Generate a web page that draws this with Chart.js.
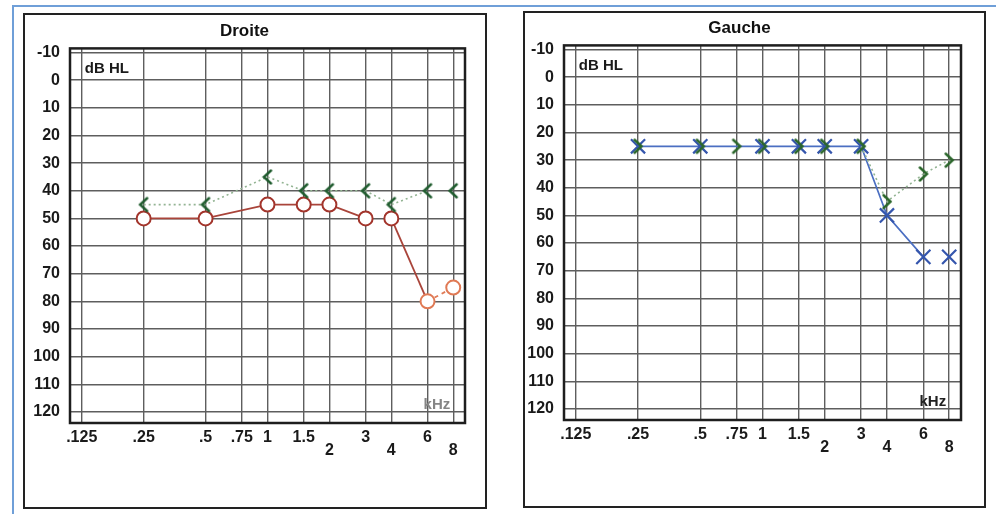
<!DOCTYPE html>
<html lang="fr">
<head>
<meta charset="utf-8">
<title>Audiogramme</title>
<script src="https://cdn.jsdelivr.net/npm/chart.js@4.4.1/dist/chart.umd.min.js"></script>
<style>
  html, body { margin: 0; padding: 0; background: #fff; }
  body { width: 996px; height: 514px; position: relative; overflow: hidden; }
  .page { position: absolute; left: 12px; top: 5px; width: 1000px; height: 520px;
          border-left: 2px solid #6f9fd8; border-top: 2px solid #6f9fd8; }
  .cadre { position: absolute; border: 2px solid #222; box-sizing: border-box; }
  #cadreDroite { left: 23px; top: 13px; width: 464px; height: 496px; }
  #cadreGauche { left: 523px; top: 11px; width: 463px; height: 497px; }
  canvas { position: absolute; }
  #droite { left: 24px; top: 14px; }
  #gauche { left: 518px; top: 11px; }
</style>
</head>
<body>
<div class="page"></div>
<div class="cadre" id="cadreDroite"></div>
<div class="cadre" id="cadreGauche"></div>
<canvas id="droite" width="490" height="494"></canvas>
<canvas id="gauche" width="468" height="494"></canvas>

<script>
// Axes
const frequences = [0.125, 0.25, 0.5, 0.75, 1, 1.5, 2, 3, 4, 6, 8];
const etiquettesFreq = [".125", ".25", ".5", ".75", "1", "1.5", "2", "3", "4", "6", "8"];
const etiquettesBasses = ["2", "4", "8"];   // écrites sur la deuxième ligne
const niveauxDb = [-10, 0, 10, 20, 30, 40, 50, 60, 70, 80, 90, 100, 110, 120];

// Oreille droite
const droiteAirFreq = [0.25, 0.5, 1, 1.5, 2, 3, 4, 6, 8];
const droiteAirDb   = [50, 50, 45, 45, 45, 50, 50, 80, 75];
const droiteOsFreq  = [0.25, 0.5, 1, 1.5, 2, 3, 4, 6, 8];
const droiteOsDb    = [45, 45, 35, 40, 40, 40, 45, 40, 40];

// Oreille gauche
const gaucheAirFreq = [0.25, 0.5, 1, 1.5, 2, 3, 4, 6, 8];
const gaucheAirDb   = [25, 25, 25, 25, 25, 25, 50, 65, 65];
const gaucheOsFreq  = [0.25, 0.5, 0.75, 1, 1.5, 2, 3, 4, 6, 8];
const gaucheOsDb    = [25, 25, 25, 25, 25, 25, 25, 45, 35, 30];

// fréquences après lesquelles le trait n'est pas tiré
const droiteAirCoupures = [3];
const droiteOsCoupures  = [6];
const gaucheAirCoupures = [6];
const gaucheOsCoupures  = [0.25, 0.5, 0.75, 1, 1.5, 2];

const police = "'Liberation Sans', Arial, sans-serif";
const rouge = "#a3352c";
const orange = "#e07a55";

function points(freqs, db) {
  return freqs.map((f, i) => ({ x: f, y: db[i] }));
}

function coupure(freqs, coupures) {
  return ctx => coupures.includes(freqs[ctx.p0DataIndex]) ? "rgba(0,0,0,0)" : undefined;
}

// symbole < ou > de la conduction osseuse
function chevron(sens, couleur) {
  const c = document.createElement("canvas");
  c.width = 12; c.height = 18;
  const g = c.getContext("2d");
  g.strokeStyle = couleur;
  g.lineWidth = 2.5;
  g.lineCap = "round";
  g.beginPath();
  if (sens === "<") { g.moveTo(9.5, 2.5); g.lineTo(2.5, 9); g.lineTo(9.5, 15.5); }
  else { g.moveTo(2.5, 2.5); g.lineTo(9.5, 9); g.lineTo(2.5, 15.5); }
  g.stroke();
  return c;
}

// cadre du graphique + "dB HL" et "kHz"
const cadreAudio = {
  id: "cadreAudio",
  beforeDatasetsDraw(chart, args, opts) {
    const { ctx, chartArea: a, scales: { x, y } } = chart;
    ctx.save();
    ctx.strokeStyle = "#1e1e1e";
    ctx.lineWidth = 2.5;
    ctx.strokeRect(a.left, a.top, a.right - a.left, a.bottom - a.top);
    ctx.font = "bold 15px " + police;
    ctx.textBaseline = "middle";
    ctx.textAlign = "left";
    ctx.fillStyle = "#1a1a1a";
    ctx.fillText("dB HL", x.getPixelForValue(0.125) + 3, a.top + 20);
    ctx.textAlign = "right";
    ctx.fillStyle = opts.couleurKhz;
    ctx.fillText("kHz", x.getPixelForValue(8) - 3, y.getPixelForValue(120) - 7);
    ctx.restore();
  }
};

function audiogramme(id, titre, datasets, margeDroite, couleurKhz) {
  return new Chart(document.getElementById(id), {
    type: "line",
    data: { datasets: datasets },
    options: {
      responsive: false,
      animation: false,
      layout: { padding: { left: 0, right: margeDroite, top: 0, bottom: 0 } },
      plugins: {
        legend: { display: false },
        tooltip: { enabled: false },
        title: {
          display: true,
          text: titre,
          color: "#111",
          font: { family: police, size: 17, weight: "bold" },
          padding: { top: 7, bottom: 7 }
        },
        cadreAudio: { couleurKhz: couleurKhz }
      },
      scales: {
        x: {
          type: "logarithmic",
          min: 0.1096,
          max: 9.126,
          afterBuildTicks: s => { s.ticks = frequences.map(v => ({ value: v })); },
          afterFit: s => { s.height = 85; },
          ticks: {
            autoSkip: false,
            maxRotation: 0,
            padding: 8,
            color: "#1a1a1a",
            font: { family: police, size: 16, weight: "bold", lineHeight: 0.82 },
            callback: (v, i) => {
              const t = etiquettesFreq[i];
              return etiquettesBasses.includes(t) ? ["", t] : t;
            }
          },
          grid: { color: "#5e5e5e", lineWidth: 1.4, drawTicks: false },
          border: { display: false }
        },
        y: {
          type: "linear",
          reverse: true,
          min: -11.5,
          max: 124,
          afterBuildTicks: s => { s.ticks = niveauxDb.map(v => ({ value: v })); },
          afterFit: s => { s.width = 46; },
          ticks: {
            padding: 10,
            color: "#1a1a1a",
            font: { family: police, size: 16, weight: "bold" }
          },
          grid: { color: "#5e5e5e", lineWidth: 1.4, drawTicks: false },
          border: { display: false }
        }
      }
    },
    plugins: [cadreAudio]
  });
}

const vertOs = "#1f5c2e";
const traitOs = "#93b493";

audiogramme("droite", "Droite", [
  {
    data: points(droiteOsFreq, droiteOsDb),
    borderColor: traitOs,
    borderWidth: 1.6,
    borderDash: [2, 3],
    pointStyle: chevron("<", vertOs),
    pointRadius: 7,
    segment: { borderColor: coupure(droiteOsFreq, droiteOsCoupures) }
  },
  {
    data: points(droiteAirFreq, droiteAirDb),
    borderColor: "#a9443a",
    borderWidth: 1.8,
    pointStyle: "circle",
    pointRadius: 7,
    pointBorderWidth: 2,
    pointBorderColor: ctx => (ctx.raw && ctx.raw.x >= 6) ? orange : rouge,
    pointBackgroundColor: "#fff",
    segment: {
      borderColor: ctx => coupure(droiteAirFreq, droiteAirCoupures)(ctx) ||
        (droiteAirFreq[ctx.p0DataIndex] >= 6 ? orange : undefined),
      borderDash: ctx => droiteAirFreq[ctx.p0DataIndex] >= 6 ? [4, 4] : undefined
    }
  }
], 49, "#858585");

audiogramme("gauche", "Gauche", [
  {
    data: points(gaucheOsFreq, gaucheOsDb),
    borderColor: traitOs,
    borderWidth: 1.6,
    borderDash: [2, 3],
    pointStyle: chevron(">", "#2a662a"),
    pointRadius: 7,
    segment: { borderColor: coupure(gaucheOsFreq, gaucheOsCoupures) }
  },
  {
    data: points(gaucheAirFreq, gaucheAirDb),
    borderColor: "#4b6fc2",
    borderWidth: 1.7,
    pointStyle: "crossRot",
    pointRadius: 10,
    pointBorderWidth: 2.2,
    pointBorderColor: "#3556ad",
    segment: { borderColor: coupure(gaucheAirFreq, gaucheAirCoupures) }
  }
], 25, "#222");
</script>
</body>
</html>
